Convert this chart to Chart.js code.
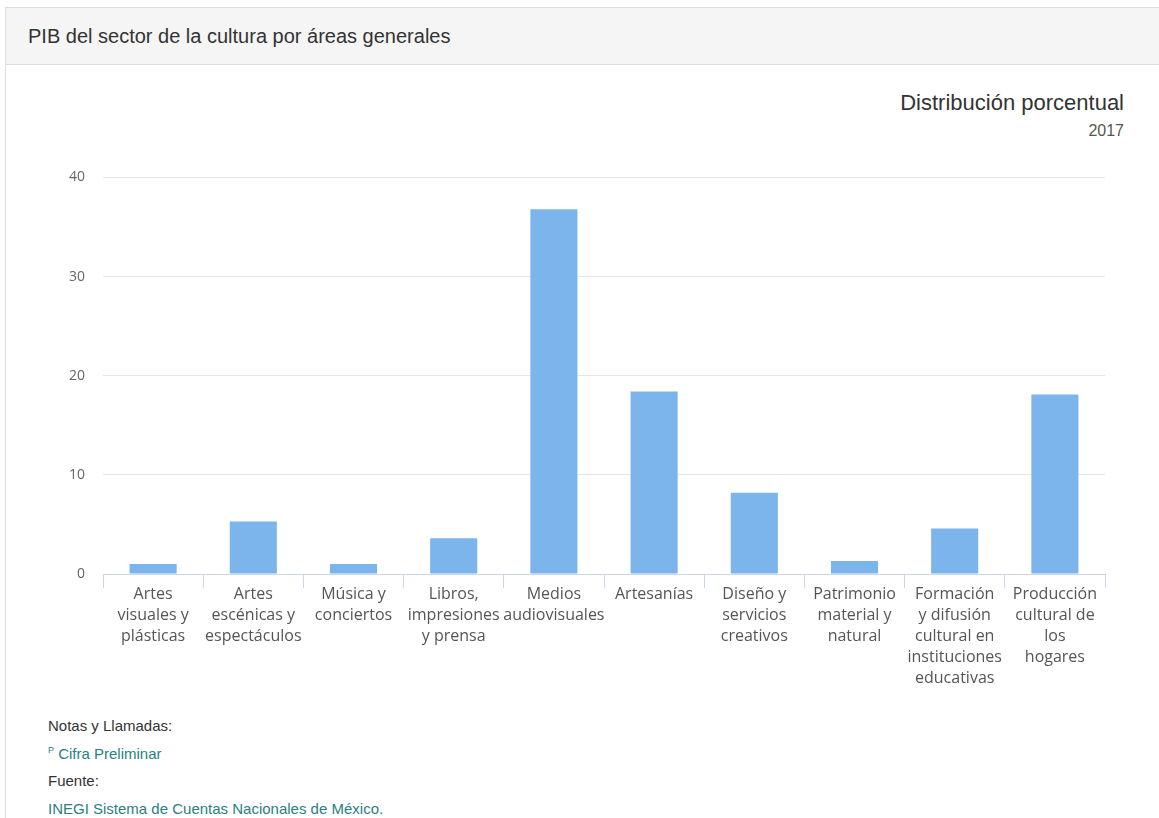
<!DOCTYPE html>
<html lang="es">
<head>
<meta charset="utf-8">
<title>PIB del sector de la cultura por áreas generales</title>
<script src="https://cdn.jsdelivr.net/npm/chart.js@4.4.1/dist/chart.umd.min.js"></script>
<style>
  html, body { margin: 0; padding: 0; background: #fff; }
  body { width: 1159px; height: 818px; overflow: hidden; font-family: Arial, "Liberation Sans", sans-serif; }
  .panel {
    position: absolute; left: 5px; top: 7px; width: 1170px; height: 830px;
    border: 1px solid #ddd; background: #fff;
  }
  .panel-heading {
    height: 56px; background: #f5f5f5; border-bottom: 1px solid #ddd;
    font-size: 20px; color: #333; line-height: 56px; padding-left: 22px;
  }
  .subtitle { position: absolute; right: 35px; top: 90px; text-align: right; color: #333; }
  .subtitle .main { font-size: 22px; }
  .subtitle .year { font-size: 16px; color: #555; margin-top: 6px; }
  .chart-box { position: absolute; left: 40px; top: 151px; width: 1090px; height: 549px; }
  .notes { position: absolute; left: 48px; top: 717px; font-size: 15px; color: #333; }
  .notes div { height: 27.7px; }
  .notes .link { color: #2a7f80; }
  .notes sup { font-size: 9px; }
</style>
</head>
<body>
<div class="panel">
  <div class="panel-heading">PIB del sector de la cultura por áreas generales</div>
</div>
<div class="subtitle">
  <div class="main">Distribución porcentual</div>
  <div class="year">2017</div>
</div>
<div class="chart-box"><canvas id="chart"></canvas></div>
<div class="notes">
  <div>Notas y Llamadas:</div>
  <div class="link"><sup>P</sup> Cifra Preliminar</div>
  <div>Fuente:</div>
  <div class="link">INEGI Sistema de Cuentas Nacionales de México.</div>
</div>
<script>
// Categorías (etiquetas en varias líneas, como en la gráfica original)
const categories = [
  ['Artes', 'visuales y', 'plásticas'],
  ['Artes', 'escénicas y', 'espectáculos'],
  ['Música y', 'conciertos'],
  ['Libros,', 'impresiones', 'y prensa'],
  ['Medios', 'audiovisuales'],
  ['Artesanías'],
  ['Diseño y', 'servicios', 'creativos'],
  ['Patrimonio', 'material y', 'natural'],
  ['Formación', 'y difusión', 'cultural en', 'instituciones', 'educativas'],
  ['Producción', 'cultural de', 'los', 'hogares'],
];

// Distribución porcentual 2017
const shareValues = [1.0, 5.3, 1.0, 3.6, 36.8, 18.4, 8.2, 1.3, 4.6, 18.1];

const yTicks = [0, 10, 20, 30, 40];

const ctx = document.getElementById('chart').getContext('2d');
new Chart(ctx, {
  type: 'bar',
  data: {
    labels: categories,
    datasets: [
      {
        label: 'Distribución porcentual',
        data: shareValues,
        backgroundColor: '#7cb5ec',
        borderWidth: 0,
        categoryPercentage: 1,
        barPercentage: 0.47,
      },
    ],
  },
  options: {
    responsive: true,
    maintainAspectRatio: false,
    animation: false,
    layout: { padding: { top: 3, right: 25, bottom: 15, left: 11 } },
    plugins: {
      legend: { display: false },
      tooltip: { enabled: false },
    },
    scales: {
      x: {
        grid: {
          display: true,
          drawOnChartArea: false,
          drawTicks: true,
          tickLength: 14,
          color: '#ccd6eb',
        },
        border: { display: true, color: '#ccd6eb' },
        ticks: {
          color: '#555',
          font: { family: '"Open Sans", sans-serif', size: 16, lineHeight: '21px' },
          padding: -4,
          maxRotation: 0,
          autoSkip: false,
        },
      },
      y: {
        min: yTicks[0],
        max: yTicks[yTicks.length - 1],
        afterBuildTicks: (scale) => {
          scale.ticks = yTicks.map((v) => ({ value: v }));
        },
        grid: { color: '#e6e6e6', drawTicks: false },
        border: { display: false },
        ticks: {
          color: '#666',
          font: { family: '"Open Sans", sans-serif', size: 14 },
          padding: 18,
        },
      },
    },
  },
});
</script>
</body>
</html>
